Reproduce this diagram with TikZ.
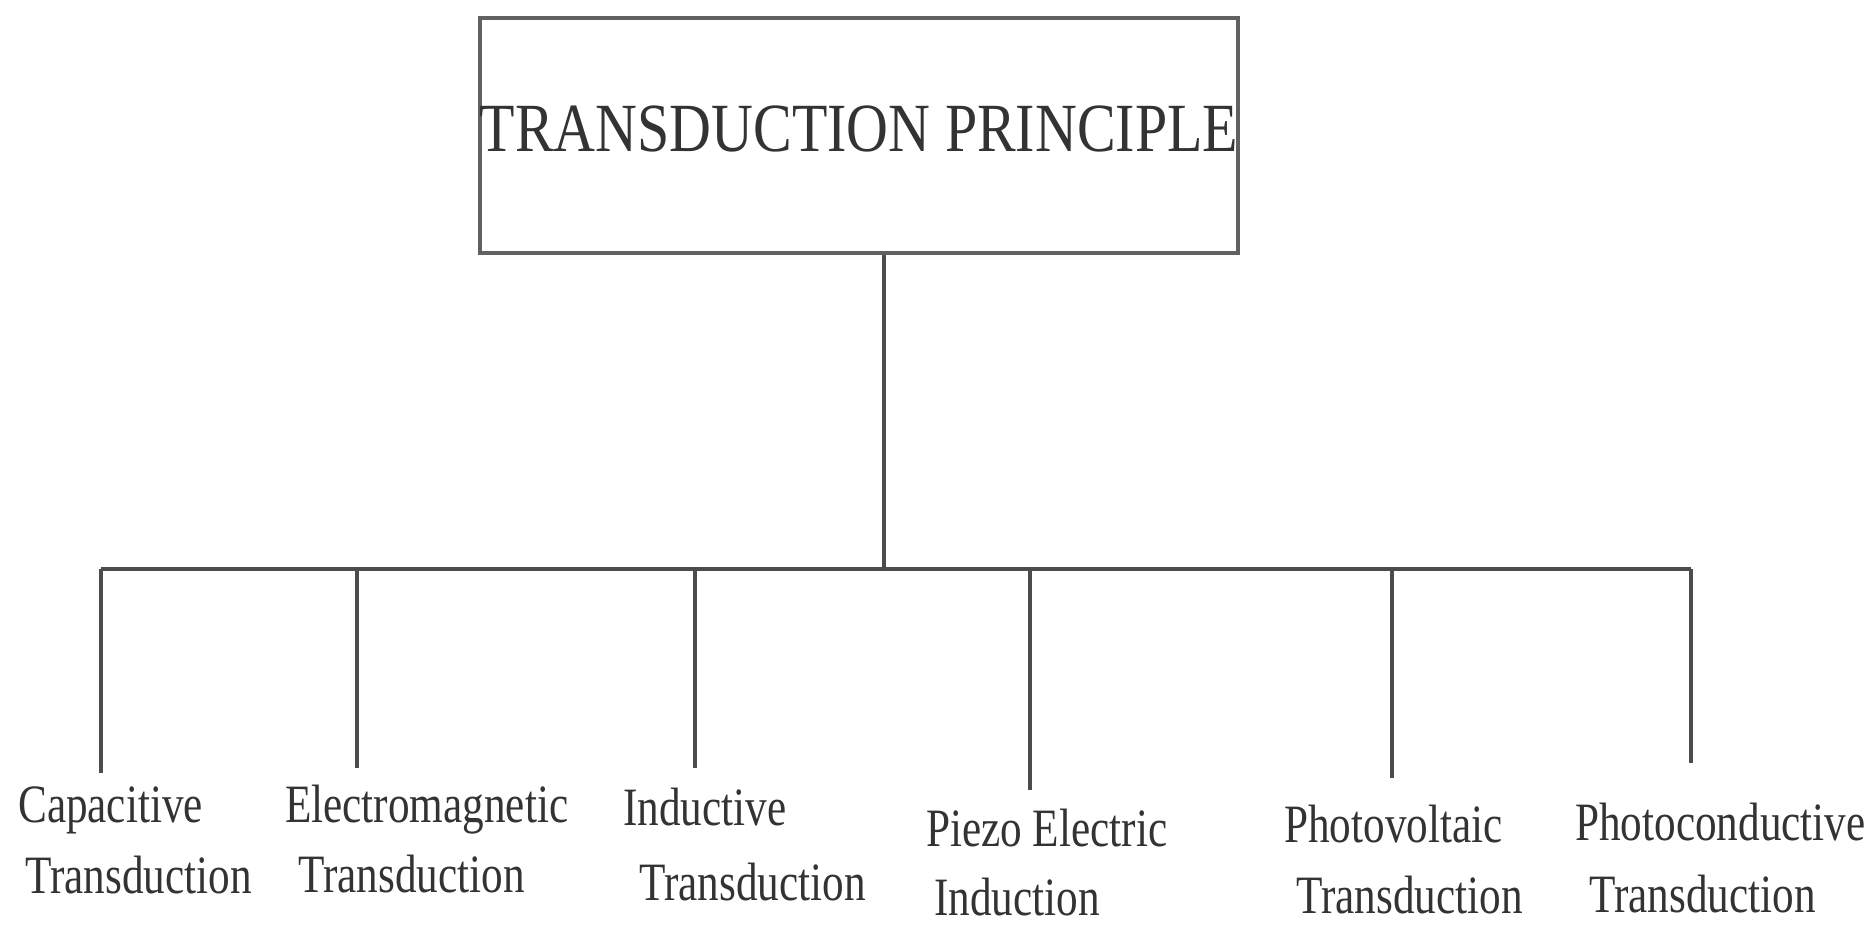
\documentclass[tikz,border=0pt]{standalone}
\usepackage{fontspec}
\setmainfont{Liberation Serif}
\newfontfamily\titlefont[FakeStretch=0.84]{Liberation Serif}
\newfontfamily\lblfont[FakeStretch=0.8]{Liberation Serif}
\begin{document}
\begin{tikzpicture}[x=1pt,y=-1pt,
  conn/.style={draw=black!70, line width=3.2pt},
  lbl/.style={anchor=base west, inner sep=0pt, font=\lblfont\fontsize{54}{64}\selectfont, text=black!80},
  rootbox/.style={draw=black!62, line width=4.5pt, minimum width=758pt, minimum height=235pt, inner sep=0pt,
    text height=45pt, text depth=12pt, font=\titlefont\fontsize{69}{80}\selectfont, text=black!80}
  ]
\useasboundingbox[fill=white] (0,0) rectangle (1870,925);
\node[rootbox] (root) at (859,135.5) {TRANSDUCTION PRINCIPLE};

\coordinate (jT) at (884,569);
\coordinate (j1) at (101,569);  \coordinate (e1) at (101,773);
\coordinate (j2) at (357,569);  \coordinate (e2) at (357,768);
\coordinate (j3) at (695,569);  \coordinate (e3) at (695,768);
\coordinate (j4) at (1030,569); \coordinate (e4) at (1030,790);
\coordinate (j5) at (1392,569); \coordinate (e5) at (1392,778);
\coordinate (j6) at (1691,569); \coordinate (e6) at (1691,763);

\node[lbl] (capA) at (18,822) {Capacitive};
\node[lbl] (capB) at (25,893) {Transduction};
\node[lbl] (emA) at (285,822) {Electromagnetic};
\node[lbl] (emB) at (298,892) {Transduction};
\node[lbl] (indA) at (623,825) {Inductive};
\node[lbl] (indB) at (639,900) {Transduction};
\node[lbl] (pzA) at (926,846) {Piezo Electric};
\node[lbl] (pzB) at (934,915) {Induction};
\node[lbl] (pvA) at (1284,842) {Photovoltaic};
\node[lbl] (pvB) at (1296,913) {Transduction};
\node[lbl] (pcA) at (1575,840) {Photoconductive};
\node[lbl] (pcB) at (1589,912) {Transduction};

\draw[conn] (jT |- root.south) -- (jT);
\draw[conn] (j1) -- (j6);
\draw[conn] (j1) -- (e1);
\draw[conn] (j2) -- (e2);
\draw[conn] (j3) -- (e3);
\draw[conn] (j4) -- (e4);
\draw[conn] (j5) -- (e5);
\draw[conn] (j6) -- (e6);
\end{tikzpicture}
\end{document}
